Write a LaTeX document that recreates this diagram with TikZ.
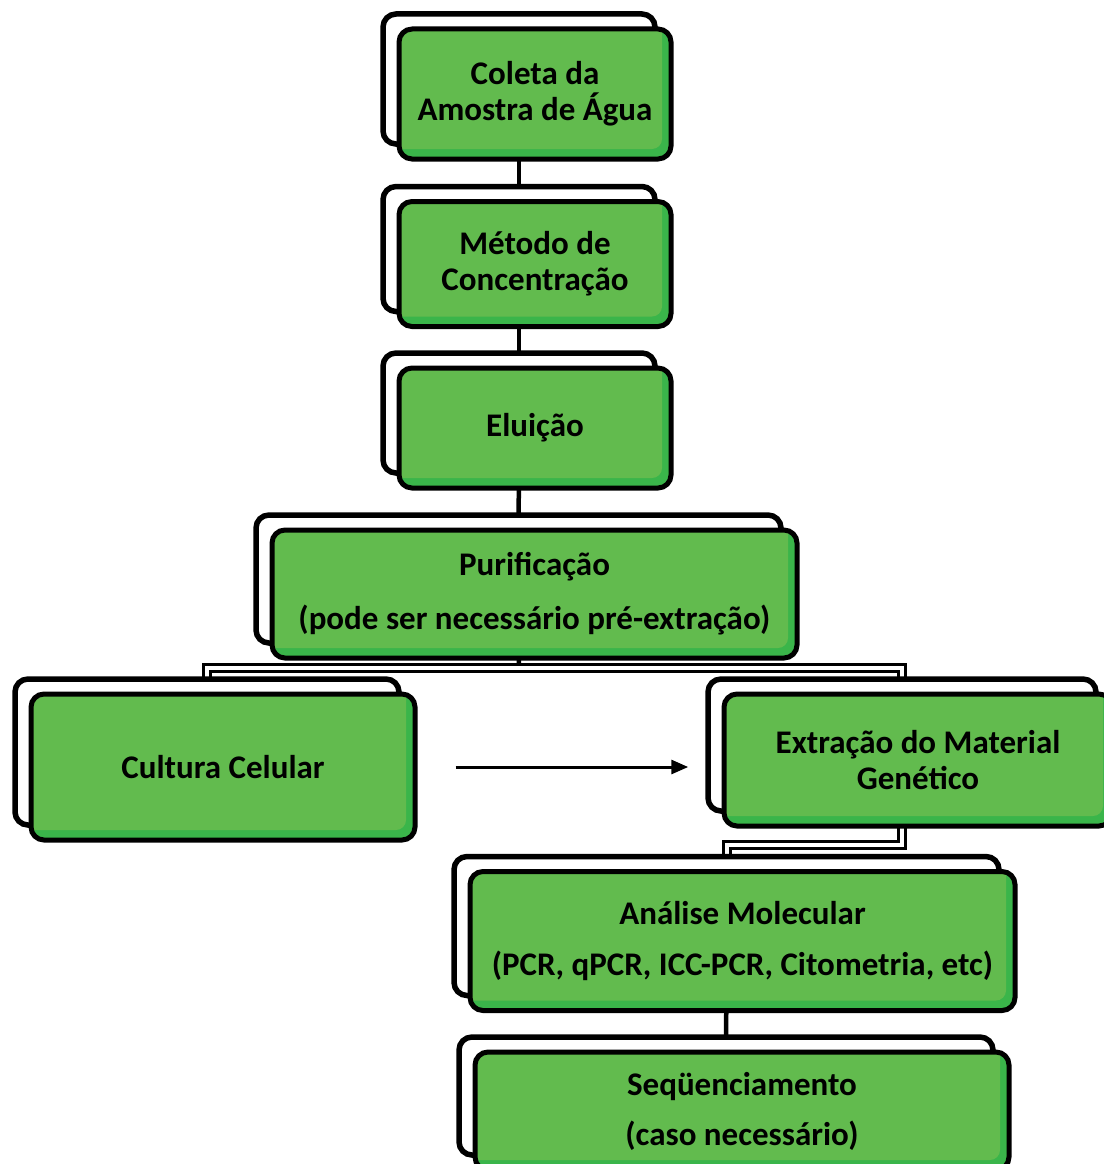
\documentclass[tikz,border=0pt]{standalone}
\usepackage{fontspec}
\setmainfont{Carlito}
\usetikzlibrary{arrows.meta}
\pgfdeclarelayer{background}
\pgfsetlayers{background,main}
\definecolor{gLight}{HTML}{62BB4E}
\definecolor{gDark}{HTML}{3AB54A}
\tikzset{
  backbox/.style={draw=black, line width=5.5pt, fill=white, rounded corners=13pt, inner sep=0pt},
  frontbox/.style={draw=black, line width=5pt, fill=gDark, rounded corners=13pt, inner sep=0pt,
    align=center, font=\bfseries\fontsize{33}{36}\selectfont,
    path picture={\fill[gLight, rounded corners=10pt]
      ([xshift=-6pt,yshift=6pt]path picture bounding box.north west) rectangle
      ([xshift=-9pt,yshift=10pt]path picture bounding box.south east);}},
  conn/.style={draw=black, line width=4.5pt},
  dbl/.style={draw=black, line width=3pt, double=white, double distance=4pt, line join=miter},
  arr/.style={draw=black, line width=3pt, -{Triangle[length=17pt,width=14pt]}}
}
\newcommand\flowbox[6]{%
  \node[backbox, minimum width=#4, minimum height=#5] (#1-b) at ({#2-16},{#3-15}) {};
  \node[frontbox, minimum width=#4, minimum height=#5] (#1) at (#2,#3) {#6};}
\begin{document}
\begin{tikzpicture}[x=1pt,y=-1pt]
\useasboundingbox (0,0) rectangle (1103,1164);
\flowbox{coleta}{535}{94}{272pt}{130pt}{Coleta da\\Amostra de Água}
\flowbox{metodo}{535}{264}{272pt}{125pt}{Método de\\Concentração}
\flowbox{elui}{535}{428}{272pt}{120pt}{Eluição}
\flowbox{purif}{534.5}{594}{525pt}{128pt}{Purificação\\[18pt](pode ser necessário pré-extração)}
\flowbox{cult}{223}{767}{384pt}{146pt}{Cultura Celular}
\flowbox{extr}{918}{760}{388pt}{132pt}{Extração do Material\\Genético}
\flowbox{anal}{742.5}{941}{545pt}{139pt}{Análise Molecular\\[15pt](PCR, qPCR, ICC-PCR, Citometria, etc)}
\flowbox{seq}{742}{1111}{534pt}{118pt}{Seqüenciamento\\[14pt](caso necessário)}
\coordinate (split) at (519,668);
\coordinate (jt) at (800,845);
\begin{pgfonlayer}{background}
\fill[white] (0,0) rectangle (1103,1164);
\draw[conn] (coleta-b.center) -- (metodo-b.center);
\draw[conn] (metodo-b.center) -- (elui-b.center);
\draw[conn] (elui-b.center) -- (purif-b.center);
\draw[conn] (purif-b.center) -- (split);
\draw[dbl] (cult-b.center) |- (split) -| (extr-b.center);
\draw[dbl] (extr-b.center) |- (jt) -| (anal-b.center);
\draw[conn] (anal-b.center) -- (seq-b.center);
\end{pgfonlayer}
\draw[arr] ([xshift=38pt]cult.east) -- ([xshift=-17pt]extr-b.west |- cult.east);
\end{tikzpicture}
\end{document}
